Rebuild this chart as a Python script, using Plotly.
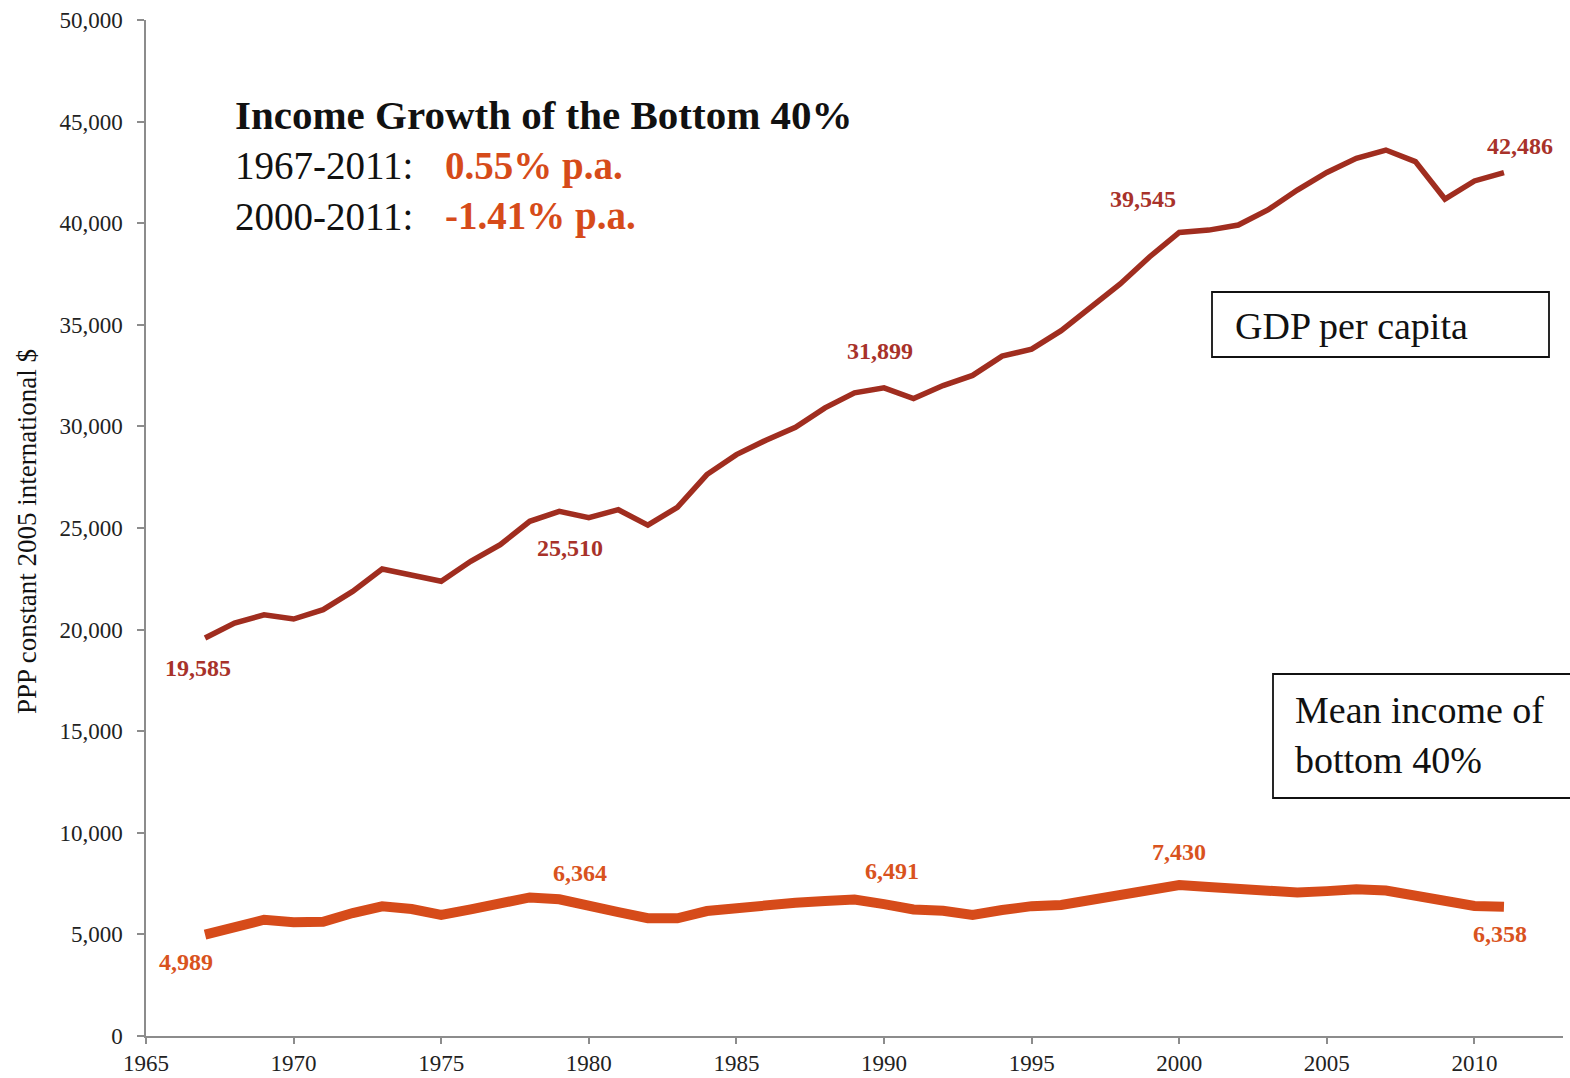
import plotly.graph_objects as go

# ---- data -------------------------------------------------------------
years = list(range(1967, 2012))

gdp_per_capita = [
    19585, 20320, 20730, 20520, 20980, 21880, 22980, 22660, 22380, 23360,
    24180, 25330, 25820, 25510, 25900, 25140, 26020, 27630, 28610, 29320,
    29960, 30910, 31650, 31899, 31370, 32010, 32510, 33460, 33800, 34710,
    35890, 37010, 38350, 39545, 39660, 39910, 40650, 41630, 42500, 43190,
    43600, 43030, 41190, 42080, 42486,
]

bottom40_income = [
    4989, 5380, 5720, 5600, 5620, 6050, 6380, 6250, 5960, 6230,
    6480, 6820, 6730, 6364, 6100, 5800, 5790, 6150, 6320, 6490,
    6560, 6640, 6720, 6491, 6230, 6160, 5960, 6200, 6390, 6450,
    6720, 6980, 7230, 7430, 7330, 7200, 7080, 7060, 7130, 7220,
    7160, 6900, 6600, 6400, 6358,
]

labelled_years = [1967, 1980, 1990, 2000, 2011]

y_ticks = list(range(0, 50001, 5000))
x_ticks = list(range(1965, 2011, 5))

growth_periods = ["1967-2011:", "2000-2011:"]
growth_rates = ["0.55% p.a.", "-1.41% p.a."]

# ---- styling ----------------------------------------------------------
FONT = "Liberation Serif"
GDP_COLOR = "#A02D1F"
LOW_COLOR = "#D64B1A"
AXIS_COLOR = "#8c8c8c"

W, H = 1570, 1078
M_L, M_R, M_T, M_B = 146, 7, 20, 42
PW, PH = W - M_L - M_R, H - M_T - M_B


def px_x(px):
    return (px - M_L) / PW


def px_y(py):
    return (H - M_B - py) / PH


fig = go.Figure()

fig.add_trace(go.Scatter(
    x=years, y=gdp_per_capita, mode="lines",
    line=dict(color=GDP_COLOR, width=5.5),
    name="GDP per capita", hoverinfo="x+y",
))
fig.add_trace(go.Scatter(
    x=years, y=bottom40_income, mode="lines",
    line=dict(color=LOW_COLOR, width=10),
    name="Mean income of bottom 40%", hoverinfo="x+y",
))

annotations = []

# value labels on selected years
gdp_offsets = {1967: (-7, -30), 1980: (-19, -30), 1990: (-4, 37),
               2000: (-36, 33), 2011: (16, 27)}
low_offsets = {1967: (-19, -27), 1980: (-9, 34), 1990: (8, 33),
               2000: (0, 33), 2011: (-4, -27)}

for yr in labelled_years:
    i = years.index(yr)
    v = gdp_per_capita[i]
    dx, dy = gdp_offsets[yr]
    annotations.append(dict(
        x=yr, y=v, xref="x", yref="y", text=f"{v:,}", showarrow=False,
        xshift=dx, yshift=dy,
        font=dict(family=FONT, size=24, color="#A8322A", weight="bold"),
    ))
    v = bottom40_income[i]
    dx, dy = low_offsets[yr]
    annotations.append(dict(
        x=yr, y=v, xref="x", yref="y", text=f"{v:,}", showarrow=False,
        xshift=dx, yshift=dy,
        font=dict(family=FONT, size=24, color="#D9531E", weight="bold"),
    ))

# headline block
annotations.append(dict(
    x=px_x(233), y=px_y(115), xref="paper", yref="paper",
    xanchor="left", yanchor="middle", showarrow=False,
    text="<b>Income Growth of the Bottom 40%</b>",
    font=dict(family=FONT, size=41, color="#111111"),
))
for row, (period, rate) in enumerate(zip(growth_periods, growth_rates)):
    yc = 166 + row * 50
    annotations.append(dict(
        x=px_x(233), y=px_y(yc), xref="paper", yref="paper",
        xanchor="left", yanchor="middle", showarrow=False,
        text=period, font=dict(family=FONT, size=39, color="#111111"),
    ))
    annotations.append(dict(
        x=px_x(443), y=px_y(yc), xref="paper", yref="paper",
        xanchor="left", yanchor="middle", showarrow=False,
        text=f"<b>{rate}</b>", font=dict(family=FONT, size=39, color=LOW_COLOR),
    ))

# series captions (boxed)
annotations.append(dict(
    x=px_x(1233), y=px_y(326), xref="paper", yref="paper",
    xanchor="left", yanchor="middle", showarrow=False,
    text="GDP per capita", font=dict(family=FONT, size=38, color="#111111"),
))
for k, line in enumerate(["Mean income of", "bottom 40%"]):
    annotations.append(dict(
        x=px_x(1293), y=px_y(710 + 50 * k), xref="paper", yref="paper",
        xanchor="left", yanchor="middle", showarrow=False,
        text=line, font=dict(family=FONT, size=38, color="#111111"),
    ))

# y-axis title
annotations.append(dict(
    x=px_x(27), y=px_y(532), xref="paper", yref="paper",
    xanchor="center", yanchor="middle", showarrow=False, textangle=-90,
    text="PPP constant 2005 international $",
    font=dict(family=FONT, size=27, color="#111111"),
))

shapes = [
    dict(type="rect", xref="paper", yref="paper",
         x0=px_x(1212), x1=px_x(1549), y0=px_y(357), y1=px_y(292),
         line=dict(color="#111111", width=1.8), fillcolor="rgba(0,0,0,0)"),
    dict(type="rect", xref="paper", yref="paper",
         x0=px_x(1273), x1=px_x(1572), y0=px_y(798), y1=px_y(674),
         line=dict(color="#111111", width=1.8), fillcolor="rgba(0,0,0,0)"),
]

fig.update_layout(
    width=W, height=H,
    margin=dict(l=M_L, r=M_R, t=M_T, b=M_B),
    paper_bgcolor="white", plot_bgcolor="white",
    showlegend=False,
    font=dict(family=FONT, color="#222222"),
    annotations=annotations,
    shapes=shapes,
    xaxis=dict(
        range=[1965, 2013], tickmode="array", tickvals=x_ticks,
        ticktext=[str(t) for t in x_ticks],
        showgrid=False, zeroline=False, automargin=False,
        showline=True, linecolor=AXIS_COLOR, linewidth=1.5,
        ticks="outside", ticklen=6, tickcolor=AXIS_COLOR, tickwidth=1.5,
        tickfont=dict(family=FONT, size=23, color="#222222"),
    ),
    yaxis=dict(
        range=[0, 50000], tickmode="array", tickvals=y_ticks,
        ticktext=[f"{t:,}" for t in y_ticks],
        showgrid=False, zeroline=False, automargin=False,
        showline=True, linecolor=AXIS_COLOR, linewidth=1.5,
        ticks="outside", ticklen=7, tickcolor=AXIS_COLOR, tickwidth=1.5,
        tickfont=dict(family=FONT, size=23, color="#222222"),
        ticklabelstandoff=10,
    ),
)

fig.write_html("out.html")
